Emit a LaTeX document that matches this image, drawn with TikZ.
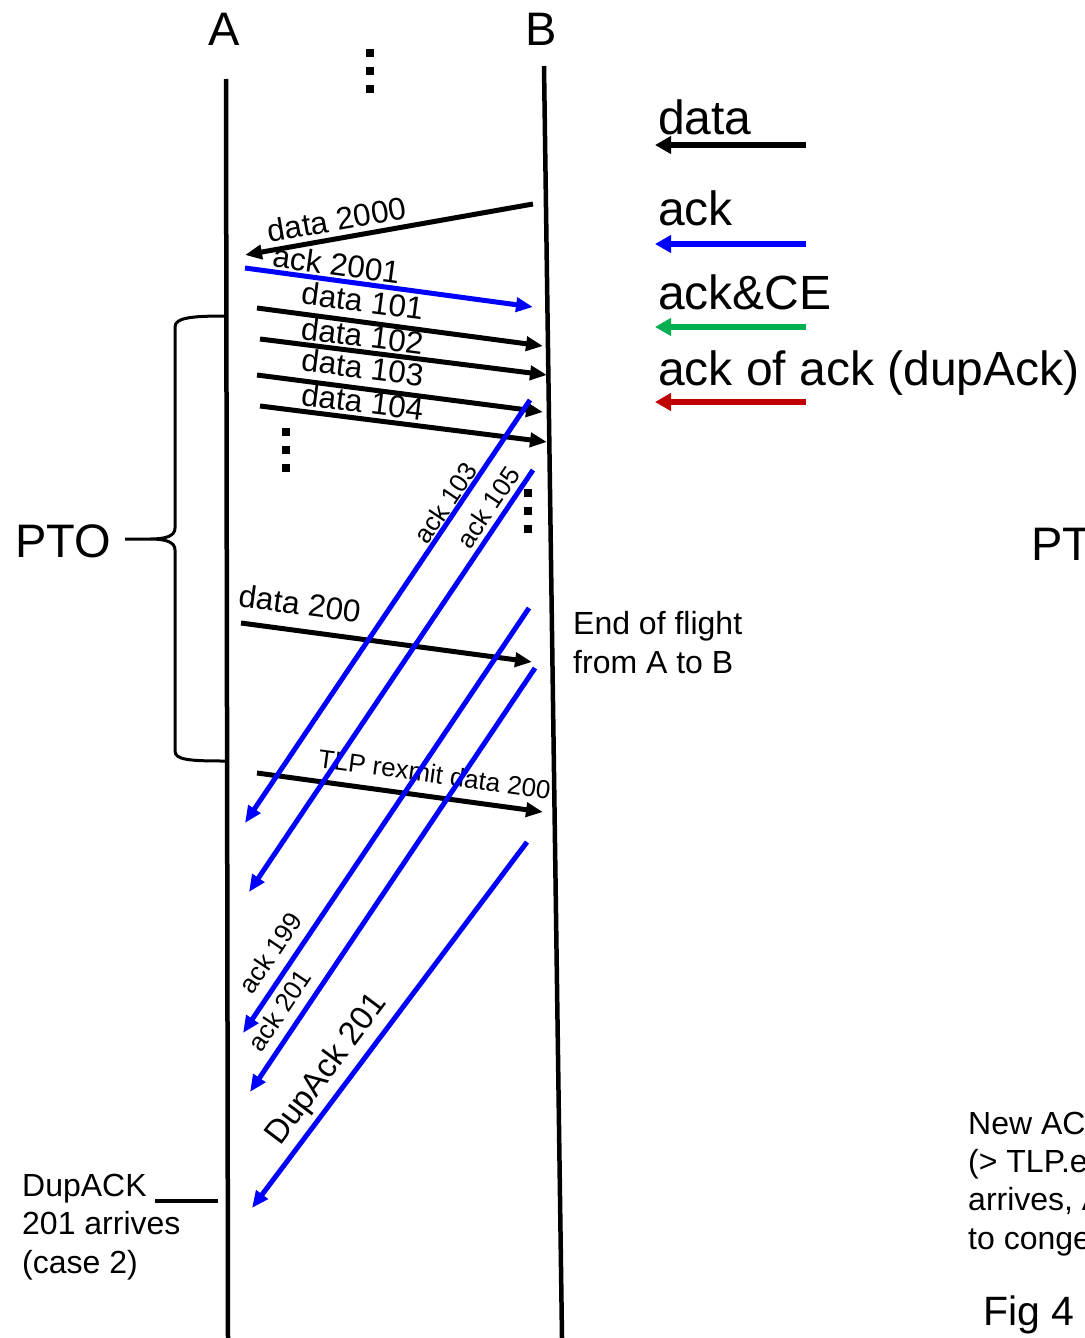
\documentclass[tikz,border=0pt]{standalone}
\usepackage{fontspec}
\setmainfont{Liberation Sans}
\usepackage{tikz}
\usetikzlibrary{arrows.meta}
\definecolor{ackblue}{RGB}{0,0,255}
\definecolor{cegreen}{RGB}{0,176,80}
\definecolor{dupred}{RGB}{192,0,0}
\newcommand\stackdots[2]{\foreach \k in {0,1,2} {\fill (#1-4,#2-4+18*\k) rectangle ++(8,8);}}

\begin{document}
\begin{tikzpicture}[
    x=1pt, y=-1pt,
    headfont/.style={font=\fontsize{47}{56}\selectfont},
    keyfont/.style={font=\fontsize{48}{56}\selectfont},
    msgfont/.style={font=\fontsize{31.5}{38}\selectfont},
    ackfont/.style={font=\fontsize{26}{31}\selectfont},
    notefont/.style={font=\fontsize{32}{38.3}\selectfont},
    life/.style={line width=4.5pt},
    datmsg/.style={line width=5pt, -{Triangle[length=17pt,width=14pt]}},
    ackmsg/.style={datmsg, draw=ackblue},
    keyarr/.style={line width=6.5pt, {Triangle[length=16pt,width=17pt]}-},
    txt/.style={anchor=base west, inner sep=0pt, align=left},
    lbl/.style={sloped, above, inner sep=0pt}
  ]
  \useasboundingbox (0,0) rectangle (1084,1338);

  % hosts and their time lines
  \node[headfont, anchor=base] (labA) at (224,46) {A};
  \node[headfont, anchor=base] (labB) at (541,46) {B};
  \coordinate (Atop) at (226,79);  \coordinate (Abot) at (228,1338);
  \coordinate (Btop) at (544,66);  \coordinate (Bbot) at (562,1338);
  \draw[life] (Atop) -- (Abot);
  \draw[life] (Btop) -- (Bbot);
  \stackdots{370}{53}
  \stackdots{286}{432}
  \stackdots{528}{493}

  % legend
  \node[keyfont, txt] (kdata) at (658,134) {data};
  \node[keyfont, txt] (kack) at (658,225) {ack};
  \node[keyfont, txt] (kce) at (658,309) {ack\&CE};
  \node[keyfont, txt] (kdup) at (658,385) {ack of ack (dupAck)};
  \coordinate (k1a) at (655,145); \coordinate (k1b) at (806,145);
  \coordinate (k2a) at (655,244); \coordinate (k2b) at (806,244);
  \coordinate (k3a) at (655,327); \coordinate (k3b) at (806,327);
  \coordinate (k4a) at (655,402); \coordinate (k4b) at (806,402);
  \draw[keyarr] (k1a) -- (k1b);
  \draw[keyarr, draw=ackblue] (k2a) -- (k2b);
  \draw[keyarr, draw=cegreen] (k3a) -- (k3b);
  \draw[keyarr, draw=dupred] (k4a) -- (k4b);

  % messages A <-> B
  \coordinate (m2000s) at (533,204); \coordinate (m2000e) at (245,255);
  \coordinate (a2001s) at (245,268); \coordinate (a2001e) at (533,307);
  \coordinate (m101s) at (257,308);  \coordinate (m101e) at (543,346);
  \coordinate (m102s) at (260,339);  \coordinate (m102e) at (547,375);
  \coordinate (m103s) at (257,375);  \coordinate (m103e) at (543,412);
  \coordinate (m104s) at (260,406);  \coordinate (m104e) at (547,442);
  \coordinate (m200s) at (241,623);  \coordinate (m200e) at (532,662);
  \coordinate (tlps) at (257,773);   \coordinate (tlpe) at (543,812);
  \draw[datmsg] (m2000s) -- node[lbl, msgfont, pos=0.67, above=5pt] (l2000) {data 2000} (m2000e);
  \draw[ackmsg] (a2001s) -- node[lbl, msgfont, pos=0.31, above=2pt] (l2001) {ack 2001} (a2001e);
  \draw[datmsg] (m101s) -- node[lbl, msgfont, pos=0.36, above=7pt] (l101) {data 101} (m101e);
  \draw[datmsg] (m102s) -- node[lbl, msgfont, pos=0.35, above=2pt] (l102) {data 102} (m102e);
  \draw[datmsg] (m103s) -- node[lbl, msgfont, pos=0.36, above=7pt] (l103) {data 103} (m103e);
  \draw[datmsg] (m104s) -- node[lbl, msgfont, pos=0.35, above=3pt] (l104) {data 104} (m104e);
  \draw[datmsg] (m200s) -- node[lbl, msgfont, pos=0.19, above=13pt] (l200) {data 200} (m200e);
  \draw[datmsg] (tlps) -- node[lbl, font=\fontsize{26}{31}\selectfont, pos=0.61, above=11pt] (ltlp) {TLP rexmit data 200} (tlpe);

  % acks B -> A
  \coordinate (a103s) at (530,400);  \coordinate (a103e) at (245,823);
  \coordinate (a105s) at (533,470);  \coordinate (a105e) at (249,892);
  \coordinate (a199s) at (529,608);  \coordinate (a199e) at (243,1033);
  \coordinate (a201s) at (535,668);  \coordinate (a201e) at (250,1092);
  \coordinate (dups) at (527,842);   \coordinate (dupe) at (252,1208);
  \draw[ackmsg] (a103s) -- node[lbl, ackfont, pos=0.26, above=0.5pt] (l103a) {ack 103} (a103e);
  \draw[ackmsg] (a105s) -- node[lbl, ackfont, pos=0.11, above=4.5pt] (l105a) {ack 105} (a105e);
  \draw[ackmsg] (a199s) -- node[lbl, ackfont, pos=0.84, above=10pt] (l199a) {ack 199} (a199e);
  \draw[ackmsg] (a201s) -- node[lbl, ackfont, pos=0.835, above=9pt] (l201a) {ack 201} (a201e);
  \draw[ackmsg] (dups) -- node[lbl, font=\fontsize{33}{40}\selectfont, pos=0.66, above=5pt] (ldup) {DupAck 201} (dupe);

  % PTO brace
  \node[headfont, txt] (pto) at (15,557) {PTO};
  \draw[line width=3pt] (225,316) .. controls (190,316) and (175,318) .. (175,327) -- (175,528)
    .. controls (175,536) and (166,539) .. (150,539) -- (125,539)
    (150,539) .. controls (166,539) and (175,542) .. (175,550) -- (175,751)
    .. controls (175,760) and (190,761) .. (225,761);

  % notes (base = last line)
  \node[notefont, txt] (eof) at (573,673) {End of flight\\from A to B};
  \node[notefont, txt] (dupnote) at (22,1273) {DupACK\\201 arrives\\(case 2)};
  \coordinate (dl0) at (155,1201); \coordinate (dl1) at (218,1201);
  \draw[line width=3.5pt] (dl0) -- (dl1);
  \node[headfont, txt] (ptr) at (1031,560) {PT};
  \node[notefont, txt] (newack) at (968,1249) {New AC\\(> TLP.e\\arrives, A\\to conge};
  \node[font=\fontsize{41}{48}\selectfont, txt] (fig) at (983,1325) {Fig 4};
\end{tikzpicture}
\end{document}
